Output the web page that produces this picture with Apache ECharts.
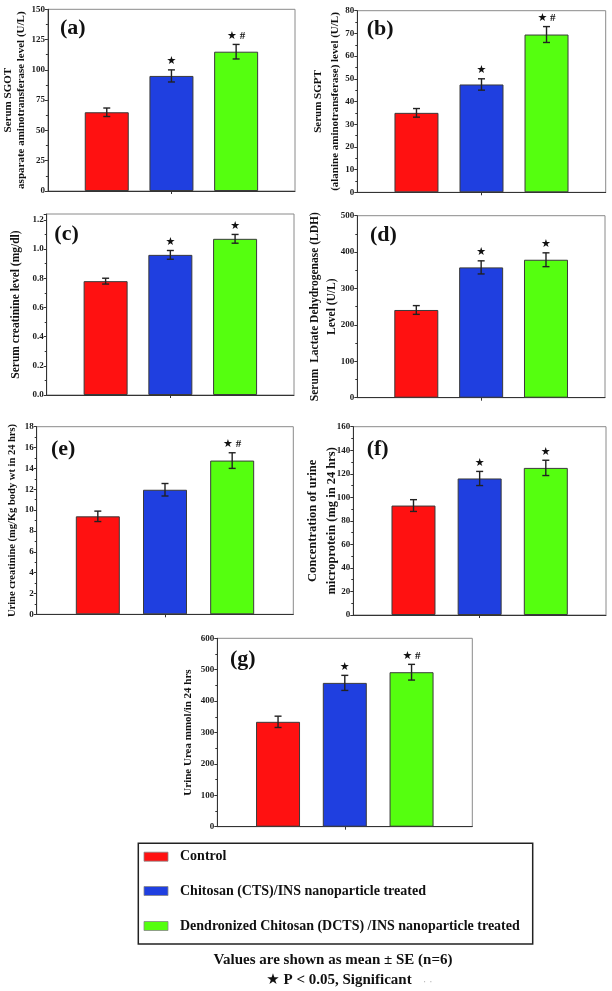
<!DOCTYPE html>
<html>
<head>
<meta charset="utf-8">
<script src="https://cdn.jsdelivr.net/npm/echarts@6/dist/echarts.min.js"></script>
<style>
html,body{margin:0;padding:0;background:#fff;}
#c{width:612px;height:991px;}
</style>
</head>
<body>
<div id="c"></div>
<script>
// ---- data ----
const groups = ['Control', 'Chitosan (CTS)/INS nanoparticle treated', 'Dendronized Chitosan (DCTS) /INS nanoparticle treated'];
const xPos = [0, 1, 2];

const sgotMean = [65, 95, 115];
const sgotErr = [3.5, 5, 6];
const sgotSig = ['', '★', '★ #'];

const sgptMean = [35, 47.5, 69.5];
const sgptErr = [1.9, 2.5, 3.5];
const sgptSig = ['', '★', '★ #'];

const serumCreatMean = [0.78, 0.96, 1.07];
const serumCreatErr = [0.02, 0.03, 0.03];
const serumCreatSig = ['', '★', '★'];

const ldhMean = [241, 358, 379];
const ldhErr = [12, 18, 19];
const ldhSig = ['', '★', '★'];

const urineCreatMean = [9.4, 11.95, 14.75];
const urineCreatErr = [0.5, 0.6, 0.75];
const urineCreatSig = ['', '', '★ #'];

const microMean = [93, 116, 125];
const microErr = [5, 6, 6.5];
const microSig = ['', '★', '★'];

const ureaMean = [334, 458, 492];
const ureaErr = [18, 24, 25];
const ureaSig = ['', '★', '★ #'];

const panelLabels = ['(a)', '(b)', '(c)', '(d)', '(e)', '(f)', '(g)'];
const yNames = [
  'Serum SGOT\nasparate aminotransferase level (U/L)',
  'Serum SGPT\n(alanine aminotransferase) level (U/L)',
  'Serum creatinine level (mg/dl)',
  'Serum  Lactate Dehydrogenase (LDH)\nLevel (U/L)',
  'Urine creatinine (mg/Kg body wt in 24 hrs)',
  'Concentration of urine\nmicroprotein (mg in 24 hrs)',
  'Urine Urea mmol/in 24 hrs'
];
const yMax = [150, 80, 1.24, 500, 18, 160, 600];
const yInterval = [25, 10, 0.2, 100, 2, 20, 100];
const yDecimals = [0, 0, 1, 0, 0, 0, 0];
const footer1 = 'Values are shown as mean ± SE (n=6)';
const footer2 = '★ P < 0.05, Significant';

// ---- styles / layout ----
const SERIF = "'Liberation Serif','Times New Roman',serif";
const barColors = ['#ff1111', '#1f3fe0', '#55ff0f'];
const panels = [
  {mean: sgotMean, err: sgotErr, sig: sgotSig, grid: {left: 47, top: 9.3, width: 248, height: 181.7}, nameGap: 19.5, nameSize: 11, lh: 13.7, label: [60, 29]},
  {mean: sgptMean, err: sgptErr, sig: sgptSig, grid: {left: 357.3, top: 10.7, width: 248.4, height: 181.6}, nameGap: 13.8, nameSize: 11, lh: 17, label: [366.7, 30]},
  {mean: serumCreatMean, err: serumCreatErr, sig: serumCreatSig, grid: {left: 46.7, top: 214, width: 247.3, height: 181}, nameGap: 24.2, nameSize: 11.5, lh: 13, label: [54.3, 235]},
  {mean: ldhMean, err: ldhErr, sig: ldhSig, grid: {left: 357.3, top: 215.7, width: 247.7, height: 182}, nameGap: 17.3, nameSize: 11.5, lh: 16.7, label: [370, 236]},
  {mean: urineCreatMean, err: urineCreatErr, sig: urineCreatSig, grid: {left: 36.7, top: 426.7, width: 256.6, height: 187.6}, nameGap: 18, nameSize: 10.5, lh: 12, label: [51, 450]},
  {mean: microMean, err: microErr, sig: microSig, grid: {left: 353.3, top: 426.7, width: 252.7, height: 188.3}, nameGap: 11.6, nameSize: 12.5, lh: 19.3, label: [366.7, 450.7]},
  {mean: ureaMean, err: ureaErr, sig: ureaSig, grid: {left: 217.3, top: 638.3, width: 255, height: 188.4}, nameGap: 22.5, nameSize: 11, lh: 13, label: [230, 660]}
];

const option = {
  animation: false,
  backgroundColor: '#fff',
  grid: [], xAxis: [], yAxis: [], series: [], graphic: []
};

panels.forEach((p, i) => {
  option.grid.push(Object.assign({show: true, borderColor: '#8a8a8a', borderWidth: 1, backgroundColor: 'transparent'}, p.grid));
  option.xAxis.push({
    type: 'value', gridIndex: i, min: -0.91, max: 2.91,
    splitLine: {show: false},
    axisLine: {show: true, onZero: false, lineStyle: {color: '#333', width: 1}},
    axisTick: {show: true, customValues: [1], length: 3, lineStyle: {color: '#333'}},
    axisLabel: {show: false}
  });
  option.yAxis.push({
    type: 'value', gridIndex: i, min: 0, max: yMax[i], interval: yInterval[i],
    name: yNames[i], nameLocation: 'middle', nameRotate: 90, nameGap: p.nameGap, nameMoveOverlap: false,
    nameTextStyle: {fontFamily: SERIF, fontWeight: 'bold', fontSize: p.nameSize, lineHeight: p.lh, color: '#111'},
    splitLine: {show: false},
    axisLine: {show: true, onZero: false, lineStyle: {color: '#333', width: 1}},
    axisTick: {show: true, length: 3, lineStyle: {color: '#333'}},
    minorTick: {show: true, splitNumber: 2, length: 2, lineStyle: {color: '#333'}},
    axisLabel: {fontFamily: SERIF, fontWeight: 'bold', fontSize: 9, color: '#1a1a1a', margin: 3,
      showMaxLabel: Math.abs(yMax[i] / yInterval[i] - Math.round(yMax[i] / yInterval[i])) < 1e-6,
      formatter: (v) => v.toFixed(yDecimals[i])}
  });
  option.series.push({
    type: 'bar', xAxisIndex: i, yAxisIndex: i, barWidth: 44,
    data: xPos.map((x, k) => ({value: [x, p.mean[k]], itemStyle: {color: barColors[k]}})),
    itemStyle: {borderColor: '#3a3a3a', borderWidth: 1},
    z: 2
  });
  const sig = p.sig;
  option.series.push({
    type: 'custom', xAxisIndex: i, yAxisIndex: i, z: 5,
    data: xPos.map((x, k) => [x, p.mean[k], p.err[k]]),
    renderItem: function (params, api) {
      const x = api.value(0), v = api.value(1), e = api.value(2);
      const t = api.coord([x, v + e]);
      const b = api.coord([x, v - e]);
      const cap = 3.5;
      const st = {stroke: '#222', lineWidth: 1.4};
      const ch = [
        {type: 'line', shape: {x1: t[0], y1: t[1], x2: b[0], y2: b[1]}, style: st},
        {type: 'line', shape: {x1: t[0] - cap, y1: t[1], x2: t[0] + cap, y2: t[1]}, style: st},
        {type: 'line', shape: {x1: b[0] - cap, y1: b[1], x2: b[0] + cap, y2: b[1]}, style: st}
      ];
      const s = sig[params.dataIndex];
      if (s) {
        ch.push({type: 'text', x: t[0], y: t[1] - 3,
          style: {text: s, fill: '#111', font: "bold 11px 'Liberation Serif','DejaVu Sans',serif", textAlign: 'center', textVerticalAlign: 'bottom'}});
      }
      return {type: 'group', children: ch};
    }
  });
  option.graphic.push({
    type: 'text', left: p.label[0], top: p.label[1] - 12,
    style: {text: panelLabels[i], font: "bold 22px 'Liberation Serif','Times New Roman',serif", fill: '#111'}
  });
});

// legend box
option.graphic.push({type: 'rect', shape: {x: 138.3, y: 843.3, width: 394.4, height: 100.7}, style: {fill: '#fff', stroke: '#222', lineWidth: 1.5}, z: 1});
const legendY = [856.7, 891, 926];
groups.forEach((g, k) => {
  option.graphic.push({type: 'rect', shape: {x: 144, y: legendY[k] - 4.5, width: 24, height: 9}, style: {fill: barColors[k], stroke: '#888', lineWidth: 0.8}, z: 2});
  option.graphic.push({type: 'text', x: 180, y: legendY[k], style: {text: g, font: "bold 14px 'Liberation Serif','Times New Roman',serif", fill: '#111', textVerticalAlign: 'middle'}, z: 2});
});
option.graphic.push({type: 'text', x: 333, y: 960, style: {text: footer1, font: "bold 15px 'Liberation Serif','Times New Roman',serif", fill: '#111', textAlign: 'center', textVerticalAlign: 'middle'}});
option.graphic.push({type: 'text', x: 339, y: 980, style: {text: footer2, font: "bold 15px 'Liberation Serif','DejaVu Sans',serif", fill: '#111', textAlign: 'center', textVerticalAlign: 'middle'}});
option.graphic.push({type: 'text', x: 423, y: 982, style: {text: '· ·', font: "10px 'DejaVu Sans',sans-serif", fill: '#bbb', textVerticalAlign: 'middle'}});

const chart = echarts.init(document.getElementById('c'), null, {renderer: 'canvas'});
chart.setOption(option);
</script>
</body>
</html>
